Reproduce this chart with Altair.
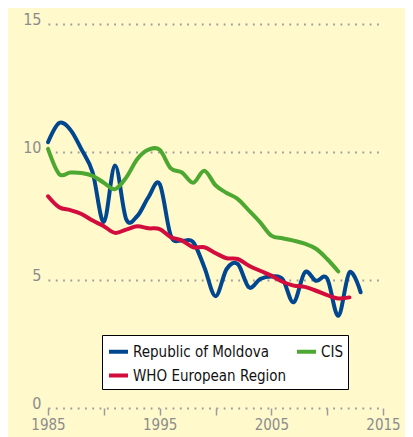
import altair as alt
import pandas as pd

moldova_years = list(range(1985, 2014))
moldova = [10.38, 11.13, 10.87, 10.1, 9.2, 7.27, 9.47, 7.38, 7.5, 8.24, 8.75, 6.73, 6.54, 6.48,
           5.5, 4.37, 5.43, 5.62, 4.71, 5.04, 5.14, 5.04, 4.13, 5.3, 4.97, 5.06, 3.6, 5.3, 4.52]

cis_years = list(range(1985, 2012))
cis = [10.12, 9.14, 9.2, 9.18, 9.07, 8.8, 8.55, 9.0, 9.73, 10.09, 10.09, 9.36, 9.2, 8.8,
       9.27, 8.7, 8.4, 8.16, 7.71, 7.25, 6.73, 6.63, 6.54, 6.42, 6.22, 5.82, 5.33]

who_years = list(range(1985, 2013))
who = [8.27, 7.84, 7.73, 7.58, 7.32, 7.1, 6.84, 6.97, 7.1, 7.02, 6.99, 6.67, 6.54, 6.28,
       6.28, 6.05, 5.85, 5.82, 5.56, 5.36, 5.17, 4.93, 4.78, 4.73, 4.58, 4.41, 4.28, 4.32]

series_names = ["Republic of Moldova", "CIS", "WHO European Region"]
series_colors = ["#00478F", "#4DA832", "#D20C3C"]
x_ticks = [1985, 1990, 1995, 2000, 2005, 2010, 2015]
y_ticks = [0, 5, 10, 15]

rows = []
for name, yrs, vals in zip(series_names, [moldova_years, cis_years, who_years], [moldova, cis, who]):
    for y, v in zip(yrs, vals):
        rows.append({"year": y, "value": v, "series": name})
df = pd.DataFrame(rows)

FONT = "Liberation Sans Narrow, DejaVu Sans Condensed, sans-serif"

chart = alt.Chart(df).mark_line(strokeWidth=4, interpolate="cardinal", strokeCap="round").encode(
    x=alt.X("year:Q", scale=alt.Scale(domain=[1985, 2015], nice=False, zero=False),
            axis=alt.Axis(values=x_ticks, format="d", title=None, grid=False, domain=False,
                          ticks=True, tickSize=7, tickColor="#9c9c9c", tickWidth=1.5,
                          labelExpr="(datum.value - 1985) % 10 == 0 ? datum.label : ''",
                          labelColor="#8c8c8c", labelFontSize=15, labelFont=FONT,
                          labelPadding=2, labelFlush=False, labelOverlap=False)),
    y=alt.Y("value:Q", scale=alt.Scale(domain=[0, 15], nice=False),
            axis=alt.Axis(values=y_ticks, title=None, domain=False, ticks=False,
                          grid=True, gridColor="#9c9c9c", gridDash=[1.8, 5.5], gridWidth=2,
                          labelColor="#8c8c8c", labelFontSize=16, labelFont=FONT,
                          labelBaseline="alphabetic", labelPadding=7)),
    color=alt.Color("series:N", sort=series_names,
                    scale=alt.Scale(domain=series_names, range=series_colors),
                    legend=alt.Legend(title=None, orient="none", legendX=54, legendY=311,
                                      direction="horizontal", columns=2,
                                      symbolType="stroke", symbolSize=361,
                                      symbolStrokeWidth=4, labelFontSize=15, labelFont=FONT,
                                      labelColor="#111111", labelOffset=3, columnPadding=2,
                                      rowPadding=4, padding=5, strokeColor="#000000",
                                      fillColor="#ffffff", cornerRadius=0)),
    order=alt.Order("year:Q"),
).properties(
    width=335, height=384,
    autosize=alt.AutoSizeParams(type="none"),
    padding={"left": 40, "top": 16, "right": 22, "bottom": 29},
    background="#FFF9CC",
).configure_view(stroke=None)

chart.save("out.html", embed_options={"renderer": "svg", "actions": False})
